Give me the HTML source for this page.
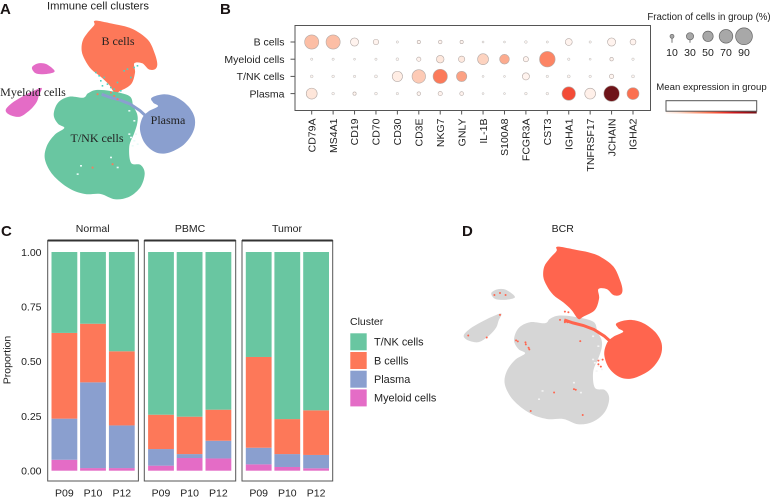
<!DOCTYPE html>
<html lang="en">
<head>
<meta charset="utf-8">
<title>Immune cell clusters figure</title>
<style>
html,body{margin:0;padding:0;background:#fff;}
svg{display:block;font-family:"Liberation Sans",sans-serif;fill:#222;}
.lbl{font-size:10.5px;}
.serif{font-family:"Liberation Serif",serif;font-size:12px;fill:#222;}
.panel{font-size:15px;font-weight:bold;fill:#1a1414;}
</style>
</head>
<body>
<svg id="fig" width="771" height="500" viewBox="0 0 771 500" xmlns="http://www.w3.org/2000/svg">
  <g id="umapA"></g>
  <g id="umapD"></g>
  <g id="dots"></g>
  <g id="bars"></g>
  <text class="panel" x="0" y="14">A</text>
  <text class="panel" x="220" y="14">B</text>
  <text class="panel" x="1" y="236">C</text>
  <text class="panel" x="462" y="236">D</text>
  <text x="98" y="9.5" text-anchor="middle" style="font-size:11.2px">Immune cell clusters</text>
  <text class="lbl" x="562.7" y="232" text-anchor="middle">BCR</text>
  <text class="serif" x="118" y="45" text-anchor="middle">B cells</text>
  <text class="serif" x="33" y="96" text-anchor="middle">Myeloid cells</text>
  <text class="serif" x="97" y="142" text-anchor="middle">T/NK cells</text>
  <text class="serif" x="168" y="124" text-anchor="middle">Plasma</text>
  <text x="709" y="20" text-anchor="middle" style="font-size:9.7px">Fraction of cells in group (%)</text>
  <text x="711.5" y="90" text-anchor="middle" style="font-size:9.6px">Mean expression in group</text>
  <text class="lbl" x="350" y="325">Cluster</text>
  <text class="lbl" transform="translate(10.5,360) rotate(-90)" text-anchor="middle">Proportion</text>
</svg>
<script>
// ---------- dot plot data ----------
const genes = ["CD79A","MS4A1","CD19","CD70","CD30","CD3E","NKG7","GNLY","IL-1B","S100A8","FCGR3A","CST3","IGHA1","TNFRSF17","JCHAIN","IGHA2"];
const groups = ["B cells","Myeloid cells","T/NK cells","Plasma"];
const fracB   = [76,76,38,22,2,8,10,8,0,0,4,1,31,2,38,24];
const fracM   = [2,2,0,2,5,14,35,27,56,48,20,85,3,0,9,3];
const fracT   = [5,4,3,6,52,72,77,52,0,0,32,3,6,3,15,6];
const fracP   = [56,4,8,5,3,10,14,11,0,0,4,4,72,55,85,62];
const exprB   = [.24,.24,.01,.01,0,0,0,0,0,0,0,0,.01,0,.01,.01];
const exprM   = [0,0,0,0,0,.01,.08,.07,.17,.3,.01,.42,0,0,0,0];
const exprT   = [0,0,0,0,.05,.2,.45,.33,0,0,.01,0,0,0,0,0];
const exprP   = [.09,0,0,0,0,0,.01,.01,0,0,0,0,.58,.03,1,.48];
const sizeLegendValues = [10,30,50,70,90];

// ---------- stacked bar data ----------
const facets = ["Normal","PBMC","Tumor"];
const patients = ["P09","P10","P12"];
const yTicks = [0,0.25,0.5,0.75,1];
const clusterNames = ["T/NK cells","B cellls","Plasma","Myeloid cells"];
const myeloidShare = [0.05,0.012,0.012, 0.023,0.058,0.056, 0.029,0.017,0.011];
const plasmaShare  = [0.188,0.392,0.195, 0.076,0.018,0.081, 0.076,0.059,0.061];
const bcellShare   = [0.392,0.268,0.339, 0.157,0.171,0.142, 0.415,0.16,0.204];
const tnkShare     = [0.37,0.328,0.454, 0.744,0.753,0.721, 0.48,0.764,0.724];

// ---------- UMAP embedding data (UMAP units) ----------
const bcellU = [29.3,31.7,34.1,37.4,40.8,44.6,46.5,47.2,46.5,44.6,42.7,40.3,40.5,39.3,36,34.5,32.6,30.2,27.4,25.5,24.5,24.8,26.4,28.3,28.2];
const bcellV = [6.2,6.7,7.2,7.9,9.2,12.2,16.3,19.3,20.8,20.8,19,19,21.8,25.3,27.3,28,25.3,23,20.8,18,15.3,12.2,9.7,7.5,6.4];
const tnkU = [26.4,28.8,33.1,38.8,40,41.2,41.2,40.3,38.8,39.3,42.2,43.4,42.2,38.8,34.5,30.2,25.5,20.7,15.9,13.5,14,16.4,19.3,17.4,16.1,17.4,20.7,25];
const tnkV = [28,27,27.3,28.8,31.9,34.4,36.9,39.9,43.9,48.8,49.5,52,56,59,59.8,58.2,58.2,56.5,52.5,47.9,43.9,40.4,38.4,37.1,34.4,30.8,29,29.3];
const plasmaU = [45.5,49.3,53.2,56.5,58.4,58,55.1,50.3,46.5,43.4,42,42.7,44.6,47.4,46];
const plasmaV = [29.3,28.3,29.3,31.9,35.4,39.4,43.4,45.9,45.6,42.9,38.9,35.4,33.4,31.9,30.8];
const myeloLowU = [12.5,11.7,11,9,6,3,1.7,3.6,6.6,9.9];
const myeloLowV = [26.4,28.5,30.6,33,35,34.5,33,30.9,29,27.3];
const myeloUpU = [9.7,11.6,14,16.4,14,11.1,9.9];
const myeloUpV = [20,19,19.3,21.4,22.2,22.1,21.2];
const bridgeU = [30.5,33,36,39,42,44.5];
const bridgeV = [28.3,29.2,30,31.2,33.2,35.5];
const tealStrayU = [28.5,29.5,30,31,32,33,34,35,36,30.5,37,38,39,40,41];
const tealStrayV = [21.5,22.5,24,23,25,26,26.5,24.5,27,25.5,21,20.5,23,20,19.5];
const gapU = [39,40,41,39.5,38.5,40.5,24,23,33,35,38.5,40];
const gapV = [41,42,43,43.5,40,40,49.5,52,47,50,33,36];
const orangeStrayU = [29,33,34,35,27.5,33.5];
const orangeStrayV = [28,27.5,28.5,29.5,50,49];
const bcrStrayU = [10.5,12.1,13.7,12.1,3,8.3,16.7,17.2,19.4,19.5,20.3,20.5,35.1,40.3,40.3,41.5,41,27.6,33.3,33.8,20.9,35.8,29.3,30.7,31.4,30.7,31.7];
const bcrStrayV = [20.8,20.2,20.8,26.8,33,33.6,34.5,34.8,35.1,35.7,36.7,37.2,34.7,40.6,41.7,40.3,42.4,50.2,49.2,49.4,55.8,57,28.3,29,29,25.8,26];

const TEAL="#69c6a1", ORANGE="#fd7859", BLUE="#8a9fcf", PINK="#e46cc6";
const NS="http://www.w3.org/2000/svg";
function mk(tag,attrs,parent,txt){
  const e=document.createElementNS(NS,tag);
  for(const k in attrs)e.setAttribute(k,attrs[k]);
  if(txt!==undefined)e.textContent=txt;
  parent.appendChild(e);
  return e;
}
function smooth(xs,ys,sx,sy){
  const n=xs.length,p=xs.map((x,i)=>[sx(x),sy(ys[i])]);
  let d="M"+p[0][0].toFixed(1)+" "+p[0][1].toFixed(1);
  for(let i=0;i<n;i++){
    const a=p[(i-1+n)%n],b=p[i],c=p[(i+1)%n],e=p[(i+2)%n];
    const c1=[b[0]+(c[0]-a[0])/6,b[1]+(c[1]-a[1])/6],c2=[c[0]-(e[0]-b[0])/6,c[1]-(e[1]-b[1])/6];
    d+="C"+c1[0].toFixed(1)+" "+c1[1].toFixed(1)+" "+c2[0].toFixed(1)+" "+c2[1].toFixed(1)+" "+c[0].toFixed(1)+" "+c[1].toFixed(1);
  }
  return d+"Z";
}

// ---------- Panel A ----------
const xA=u=>u*10/3, yA=v=>v*10/3;
const gA=document.getElementById("umapA");
const aLayers=[[myeloLowU,myeloLowV,PINK,"myeloid-cluster-lower"],[myeloUpU,myeloUpV,PINK,"myeloid-cluster-upper"],[plasmaU,plasmaV,BLUE,"plasma-cluster"],[bcellU,bcellV,ORANGE,"b-cell-cluster"],[tnkU,tnkV,TEAL,"tnk-cluster"]];
aLayers.forEach(l=>{
  const p=mk("path",{d:smooth(l[0],l[1],xA,yA),fill:l[2]},gA);
  
  
});
const bridgeA=mk("polyline",{points:bridgeU.map((u,i)=>xA(u)+","+yA(bridgeV[i])).join(" "),fill:"none",stroke:BLUE,"stroke-width":3},gA);


tealStrayU.forEach((u,i)=>{
  const c=mk("rect",{x:xA(u),y:yA(tealStrayV[i]),width:1.6,height:1.6,fill:"#4fd0c0"},gA);
  
  
});
gapU.forEach((u,i)=>{
  const c=mk("rect",{x:xA(u),y:yA(gapV[i]),width:2,height:1.6,fill:"#e8fbf8"},gA);
  
  
});
orangeStrayU.forEach((u,i)=>{
  const c=mk("rect",{x:xA(u),y:yA(orangeStrayV[i]),width:1.8,height:1.8,fill:ORANGE},gA);
  
  
});

// ---------- Panel D ----------
const xD=u=>463+1.047*(u*10/3-5), yD=v=>247+0.994*(v*10/3-21);
const gD=document.getElementById("umapD");
const GRAY="#d6d6d6", RED="#ff654e";
const dLayers=[[myeloLowU,myeloLowV,GRAY,"bcr-negative-myeloid-lower"],[myeloUpU,myeloUpV,GRAY,"bcr-negative-myeloid-upper"],[tnkU,tnkV,GRAY,"bcr-negative-tnk"],[plasmaU,plasmaV,RED,"bcr-positive-plasma"],[bcellU,bcellV,RED,"bcr-positive-b-cells"]];
dLayers.forEach(l=>{
  const p=mk("path",{d:smooth(l[0],l[1],xD,yD),fill:l[2]},gD);
  
  
});
const bridgeD=mk("polyline",{points:bridgeU.map((u,i)=>xD(u)+","+yD(bridgeV[i])).join(" "),fill:"none",stroke:RED,"stroke-width":3},gD);


gapU.forEach((u,i)=>{
  const c=mk("rect",{x:xD(u),y:yD(gapV[i]),width:2,height:1.6,fill:"#f4f4f4"},gD);
  
  
});
bcrStrayU.forEach((u,i)=>{
  const c=mk("circle",{cx:xD(u),cy:yD(bcrStrayV[i]),r:1,fill:RED},gD);
  
  
});

// ---------- Panel B ----------
const gDots=document.getElementById("dots");
const xGene=i=>311.7+i*21.42, yGroup=i=>42+i*17.2, rFrac=f=>1.0+0.08*f;
const stops=[[255,245,240],[254,224,210],[252,187,161],[252,146,114],[251,106,74],[239,59,44],[203,24,29],[165,15,21],[110,20,25]];
function reds(t){
  t=Math.max(0,Math.min(1,t))*(stops.length-1);
  const i=Math.min(stops.length-2,Math.floor(t)),f=t-i;
  const c=stops[i].map((v,k)=>Math.round(v+(stops[i+1][k]-v)*f));
  return "rgb("+c.join(",")+")";
}
const frame=mk("rect",{x:295,y:25.5,width:355.5,height:85,fill:"none",stroke:"#555","stroke-width":1},gDots);


const fracRows=[fracB,fracM,fracT,fracP], exprRows=[exprB,exprM,exprT,exprP];
groups.forEach((g,r)=>{
  const t=mk("text",{class:"lbl",x:284.5,y:yGroup(r)+3.7,"text-anchor":"end"},gDots,g);
  
  
  const tk=mk("line",{x1:290.5,x2:295,y1:yGroup(r),y2:yGroup(r),stroke:"#555"},gDots);
  
  
  genes.forEach((_,c)=>{
    const f=fracRows[r][c];
    const dot=mk("circle",{cx:xGene(c),cy:yGroup(r),r:rFrac(f),fill:reds(exprRows[r][c]),stroke:f<8?"#bbb":"#b5aaa6","stroke-width":f<8?0.5:0.6},gDots);
    
    
  });
});
genes.forEach((g,c)=>{
  const tk=mk("line",{x1:xGene(c),x2:xGene(c),y1:110.5,y2:114.5,stroke:"#555"},gDots);
  
  
  const t=mk("text",{class:"lbl",transform:"translate("+(xGene(c)+3.7)+",118.5) rotate(-90)","text-anchor":"end"},gDots,g);
  
  
});
sizeLegendValues.forEach((v,i)=>{
  const cx=672+i*18,cy=36.3;
  if(v<=30){
    const st=mk("line",{x1:cx,x2:cx,y1:cy,y2:cy+6.5,stroke:"#555","stroke-width":0.8},gDots);
    
    
  }
  const c=mk("circle",{cx:cx,cy:cy,r:1.2+0.08*v,fill:"#a8a8a8",stroke:"#666","stroke-width":0.7},gDots);
  
  
  const t=mk("text",{class:"lbl",x:cx,y:56,"text-anchor":"middle"},gDots,v);
  
  
});
const defs=mk("defs",{},gDots);
const grad=mk("linearGradient",{id:"redsGrad",x1:0,x2:1,y1:0,y2:0},defs);
stops.forEach((s,i)=>mk("stop",{offset:i/(stops.length-1),"stop-color":"rgb("+s.join(",")+")"},grad));
const strip=mk("rect",{x:666,y:110.5,width:90.7,height:3,fill:"url(#redsGrad)"},gDots);


const cbox=mk("rect",{x:666,y:100.7,width:90.7,height:10.5,fill:"#fff",stroke:"#555","stroke-width":1},gDots);



// ---------- Panel C ----------
const gBars=document.getElementById("bars");
const yProp=p=>470.7-p*218.7;
const facetLeft=[47.7,144.3,242], facetWidth=[90.7,91.4,90.7], facetMid=[92.7,190,287];
const barOffset=[3.8,32.4,61.2], barWidth=25.8;
yTicks.forEach(t=>{
  const l=mk("text",{class:"lbl",x:41.5,y:yProp(t)+3.8,"text-anchor":"end"},gBars,t.toFixed(2));
  
  
});
facets.forEach((fname,fi)=>{
  const t=mk("text",{class:"lbl",x:facetMid[fi],y:232,"text-anchor":"middle"},gBars,fname);
  
  
  const fr=mk("rect",{x:facetLeft[fi],y:240.5,width:facetWidth[fi],height:240.5,fill:"none",stroke:"#555","stroke-width":1},gBars);
  
  
  const top=mk("line",{x1:facetLeft[fi],x2:facetLeft[fi]+facetWidth[fi],y1:240.5,y2:240.5,stroke:"#333","stroke-width":2},gBars);
  
  
  patients.forEach((pname,pi)=>{
    const idx=fi*3+pi, x=facetLeft[fi]+barOffset[pi];
    let cum=0;
    [[myeloidShare,PINK,"bar-myeloid"],[plasmaShare,BLUE,"bar-plasma"],[bcellShare,ORANGE,"bar-b-cells"],[tnkShare,TEAL,"bar-tnk"]].forEach(s=>{
      const v=s[0][idx];
      const r=mk("rect",{x:x,y:yProp(cum+v),width:barWidth,height:yProp(cum)-yProp(cum+v),fill:s[1]},gBars);
      
      
      cum+=v;
    });
    const tl=mk("text",{class:"lbl",x:x+barWidth/2,y:496.5,"text-anchor":"middle"},gBars,pname);
    
    
  });
});
const legendColors=[TEAL,ORANGE,BLUE,PINK];
clusterNames.forEach((n,i)=>{
  const y=333.3+i*18.7;
  const r=mk("rect",{x:350.3,y:y,width:16.4,height:17,fill:legendColors[i]},gBars);
  
  
  const t=mk("text",{x:374,y:y+12.3,style:"font-size:10.9px"},gBars,n);
  
  
});
</script>
</body>
</html>
